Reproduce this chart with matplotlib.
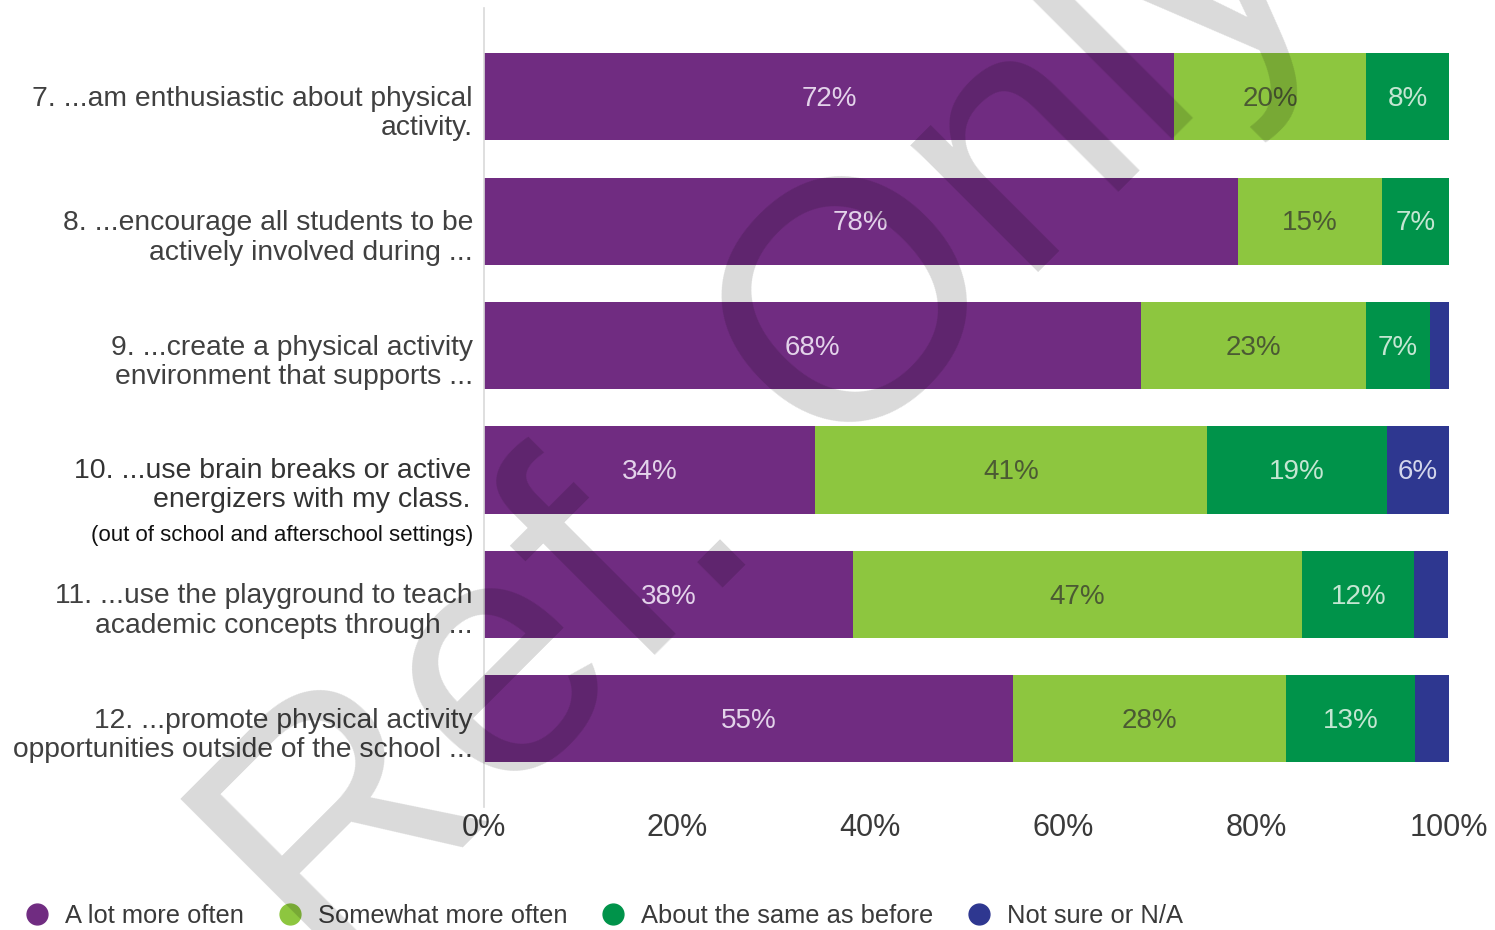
import matplotlib
matplotlib.use("Agg")
import matplotlib.pyplot as plt
import matplotlib.transforms as mtransforms
from matplotlib.lines import Line2D

# ---- data ----
categories = [
    "7. ...am enthusiastic about physical\nactivity.",
    "8. ...encourage all students to be\nactively involved during ...",
    "9. ...create a physical activity\nenvironment that supports ...",
    "10. ...use brain breaks or active\nenergizers with my class.",
    "11. ...use the playground to teach\nacademic concepts through ...",
    "12. ...promote physical activity\nopportunities outside of the school ...",
]
note_row10 = "(out of school and afterschool settings)"
series_names = ["A lot more often", "Somewhat more often",
                "About the same as before", "Not sure or N/A"]
a_lot = [71.5, 78.1, 68.1, 34.3, 38.2, 54.8]
somewhat = [19.9, 15.0, 23.3, 40.6, 46.6, 28.3]
same = [8.6, 6.9, 6.6, 18.7, 11.6, 13.4]
not_sure = [0.0, 0.0, 2.0, 6.4, 3.5, 3.5]
a_lot_lbl = ["72%", "78%", "68%", "34%", "38%", "55%"]
somewhat_lbl = ["20%", "15%", "23%", "41%", "47%", "28%"]
same_lbl = ["8%", "7%", "7%", "19%", "12%", "13%"]
not_sure_lbl = ["", "", "", "6%", "", ""]
xticks = [0, 20, 40, 60, 80, 100]
xtick_labels = ["0%", "20%", "40%", "60%", "80%", "100%"]
watermark = "Ref. Only"

colors = ["#702C81", "#8DC63F", "#00934A", "#2E3790"]
label_colors = ["#E3D3EA", "#4B5A33", "#C4E6D2", "#D3D6EC"]

SANS = ["Liberation Sans", "Arial", "DejaVu Sans"]

W, H = 1495, 930
fig = plt.figure(figsize=(W / 100, H / 100), dpi=100)
ax = fig.add_axes([484 / W, (H - 807) / H, (1449 - 484) / W, (807 - 8) / H])

series = [a_lot, somewhat, same, not_sure]
labels = [a_lot_lbl, somewhat_lbl, same_lbl, not_sure_lbl]
ypos = list(range(len(categories)))
left = [0.0] * len(categories)
for s, vals, lbls in zip(range(4), series, labels):
    bars = ax.barh(ypos, vals, left=left, height=0.70, color=colors[s],
                   edgecolor="none", zorder=2)
    for b, lab in zip(bars, lbls):
        if lab:
            ax.annotate(lab, (b.get_x() + b.get_width() / 2, b.get_y() + b.get_height() / 2),
                        xytext=(0, -1.6), textcoords="offset points",
                        ha="center", va="center", fontsize=20,
                        family=SANS, color=label_colors[s], zorder=3)
    left = [l + v for l, v in zip(left, vals)]

ax.set_xlim(0, 100)
ax.set_ylim(5.71, -0.715)
for sp in ["top", "right", "bottom"]:
    ax.spines[sp].set_visible(False)
ax.spines["left"].set_color("#D9D9D9")
ax.spines["left"].set_linewidth(1.2)
ax.set_yticks([])
ax.set_xticks(xticks)
ax.set_xticklabels(xtick_labels, family=SANS, fontsize=22, color="#3A3A3A")
ax.tick_params(axis="x", length=0, pad=4)

# category labels
trans = mtransforms.blended_transform_factory(ax.transAxes, ax.transData)
for i, cat in enumerate(categories):
    if i == 3:
        t = mtransforms.offset_copy(trans, fig=fig, x=-9.4, y=-11.2, units="points")
        ax.text(0, i, cat, transform=t, ha="right", va="center", fontsize=20.5,
                family=SANS, color="#333333", linespacing=1.12)
        t2 = mtransforms.offset_copy(trans, fig=fig, x=-7.5, y=-47.5, units="points")
        ax.text(0, i, note_row10, transform=t2, ha="right", va="center",
                fontsize=16, family=SANS, color="#111111")
    else:
        t = mtransforms.offset_copy(trans, fig=fig, x=-8, y=-12.0, units="points")
        ax.text(0, i, cat, transform=t, ha="right", va="center", fontsize=20.3,
                family=SANS, color="#404040", linespacing=1.16)

# legend
handles = [Line2D([0], [0], marker="o", linestyle="none", markersize=15,
                  markerfacecolor=c, markeredgecolor=c) for c in colors]
fig.legend(handles, series_names, loc="center left",
           bbox_to_anchor=(24 / W, 1 - 916 / H),
           ncol=4, frameon=False, handletextpad=0.6, columnspacing=1.30,
           prop={"family": SANS, "size": 18.35}, labelcolor="#3A3A3A",
           handlelength=1.0, borderaxespad=0, borderpad=0)

# watermark overlay
fig.text(766 / W, 1 - 420 / H, watermark, ha="center", va="center",
         rotation=45, rotation_mode="anchor", fontsize=245, family=SANS,
         color="black", alpha=0.15, zorder=10)

fig.savefig("out.png", dpi=100)
